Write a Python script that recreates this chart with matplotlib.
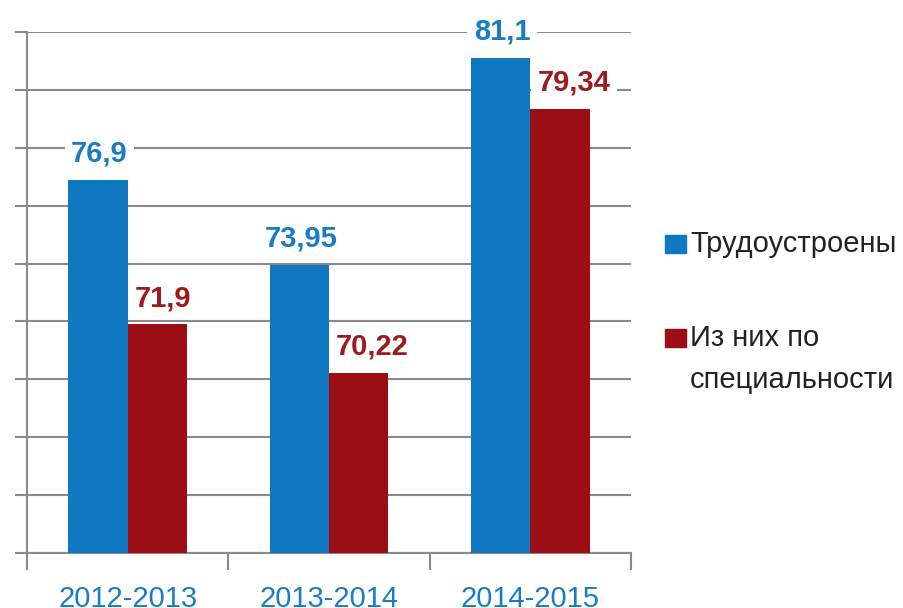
import numpy as np
import matplotlib
matplotlib.use('Agg')
import matplotlib.pyplot as plt
from matplotlib.patches import Rectangle

years = ['2012-2013', '2013-2014', '2014-2015']
employed = [76.9, 73.95, 81.1]
by_speciality = [71.9, 70.22, 79.34]
employed_labels = ['76,9', '73,95', '81,1']
speciality_labels = ['71,9', '70,22', '79,34']
series_names = ['Трудоустроены', 'Из них по\nспециальности']

blue = '#0f78c1'
red = '#9b0e14'
blue_txt = '#1a7cc4'
red_txt = '#9e1a1e'
grid_col = '#8a8a8a'

plt.rcParams['font.family'] = ['Liberation Sans', 'DejaVu Sans']

fig = plt.figure(figsize=(9.04, 6.08), dpi=100)
ax = fig.add_axes([27/904, 1-553/608, 604/904, 521/608])

x = np.arange(len(years))
w = 0.295
b1 = ax.bar(x - w/2, employed, w, color=blue, zorder=3)
b2 = ax.bar(x + w/2, by_speciality, w, color=red, zorder=3)

# value labels, white box hides the grid line behind them
box = dict(boxstyle='square,pad=0.22', fc='white', ec='none')
for rect, txt in zip(b1, employed_labels):
    ax.annotate(txt, (rect.get_x() + rect.get_width()/2, rect.get_height()),
                xytext=(1, 13), textcoords='offset points', ha='center', va='baseline',
                fontsize=21, fontweight='bold', color=blue_txt, zorder=2.5, bbox=box)
for rect, txt in zip(b2, speciality_labels):
    ax.annotate(txt, (rect.get_x(), rect.get_height()),
                xytext=(5, 13), textcoords='offset points', ha='left', va='baseline',
                fontsize=21, fontweight='bold', color=red_txt, zorder=2.5, bbox=box)

ax.set_xlim(-0.5, 2.5)
ax.set_ylim(64, 82)
ax.set_yticks(np.arange(64, 83, 2))
ax.set_yticklabels([])
ax.set_xticks([-0.5, 0.5, 1.5, 2.5])
ax.set_xticklabels([])
ax.set_xticks(x, minor=True)
ax.set_xticklabels(years, minor=True, fontsize=21, color=blue_txt)
ax.tick_params(axis='x', which='major', length=12, width=1.5, color=grid_col, direction='out')
ax.tick_params(axis='x', which='minor', length=0, pad=23)
ax.tick_params(axis='y', length=9, width=1.5, color=grid_col, direction='out')
ax.yaxis.grid(True, color=grid_col, linewidth=1.5, zorder=0)
ax.set_axisbelow(True)
for s in ['top', 'right']:
    ax.spines[s].set_visible(False)
for s in ['left', 'bottom']:
    ax.spines[s].set_color(grid_col)
    ax.spines[s].set_linewidth(1.5)

# legend drawn by hand so the square sits on the first line of each label
# (square top, baseline of the last text line) in pixels from the top
W, H = 904, 608
for (top, base, col, name) in [(235, 252, blue, series_names[0]),
                               (329, 388, red, series_names[1])]:
    fig.add_artist(Rectangle((665/W, 1-(top+18)/H), 21/W, 18/H,
                             transform=fig.transFigure, color=col))
    fig.text(690/W, 1-base/H, name, fontsize=21, color='#222222',
             va='baseline', ha='left', linespacing=1.62)

fig.savefig('out.png', dpi=100)
